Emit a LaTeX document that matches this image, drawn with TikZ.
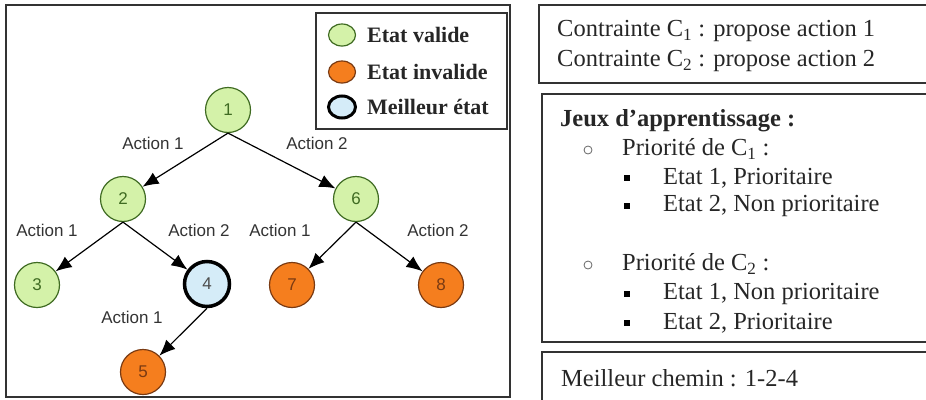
\documentclass[tikz,border=0pt]{standalone}
\usepackage{fontspec}
\setmainfont{Liberation Serif}
\newfontfamily\arialfont{Liberation Sans}
\usetikzlibrary{arrows.meta,shapes.geometric}

\definecolor{vertfond}{HTML}{D4F2A9}
\definecolor{vertbord}{HTML}{3F6B22}
\definecolor{orangefond}{HTML}{F57E1E}
\definecolor{orangebord}{HTML}{7A3A12}
\definecolor{bleufond}{HTML}{D5ECF8}
\definecolor{cadre}{HTML}{333333}

\tikzset{
	etat/.style={circle, minimum size=45pt, inner sep=0pt, line width=1.2pt,
		font=\arialfont\fontsize{17}{17}\selectfont},
	valide/.style={etat, draw=vertbord, fill=vertfond, text=vertbord},
	invalide/.style={etat, draw=orangebord, fill=orangefond, text=orangebord},
	meilleur/.style={etat, draw=black, line width=3.5pt, fill=bleufond,
		text=black!70},
	fleche/.style={-{Latex[length=16pt,width=13pt]}, line width=1.2pt},
	action/.style={font=\arialfont\fontsize{17}{17}\selectfont, text=black!80},
	legende/.style={ellipse, minimum width=27pt, minimum height=22pt,
		inner sep=0pt},
	texte/.style={anchor=west, inner sep=0pt, text=black!85,
		font=\fontsize{24.5}{24.5}\selectfont},
	rond/.style={circle, draw=black!60, line width=0.8pt, minimum size=8pt,
		inner sep=0pt},
	carre/.style={rectangle, fill=black, minimum size=6pt, inner sep=0pt}
}

\begin{document}
\begin{tikzpicture}[x=1pt, y=-1pt]
	\useasboundingbox (0, 0) rectangle (926, 399);
	\clip (0, 0) rectangle (926, 399);

	% Cadres
	\draw[line width=1.5pt, draw=cadre] (6, 5) rectangle (510, 397);
	\draw[line width=1.5pt, draw=cadre] (539, 5) rectangle (940, 83);
	\draw[line width=1.5pt, draw=cadre] (542, 94) rectangle (940, 342);
	\draw[line width=1.5pt, draw=cadre] (542, 352) rectangle (940, 420);

	% Legende
	\draw[line width=1.5pt, draw=cadre] (316, 13) rectangle (507, 129);
	\node[legende, draw=vertbord, line width=1.2pt, fill=vertfond] (lv) at (342, 35) {};
	\node[legende, draw=orangebord, line width=1.2pt, fill=orangefond] (li) at (342, 72) {};
	\node[legende, draw=black, line width=3pt, fill=bleufond] (lm) at (342, 107) {};
	\node[texte, font=\bfseries\fontsize{22}{22}\selectfont] (tv) at (367, 35) {Etat valide};
	\node[texte, font=\bfseries\fontsize{22}{22}\selectfont] (ti) at (367, 72) {Etat invalide};
	\node[texte, font=\bfseries\fontsize{22}{22}\selectfont] (tm) at (367, 107) {Meilleur état};

	% Etats
	\node[valide] (n1) at (228, 110) {1};
	\node[valide] (n2) at (123, 199) {2};
	\node[valide] (n6) at (356, 199) {6};
	\node[valide] (n3) at (37, 285) {3};
	\node[meilleur] (n4) at (207, 284) {4};
	\node[invalide] (n7) at (292, 285) {7};
	\node[invalide] (n8) at (441, 285) {8};
	\node[invalide] (n5) at (143, 372) {5};

	% Actions
	\draw[fleche] (n1.south) -- (n2);
	\draw[fleche] (n1.south) -- (n6);
	\draw[fleche] (n2.south) -- (n3);
	\draw[fleche] (n2.south) -- (n4);
	\draw[fleche] (n6.south) -- (n7);
	\draw[fleche] (n6.south) -- (n8);
	\draw[fleche] (n4.south) -- (n5);
	\node[action] (a12) at (153, 143) {Action 1};
	\node[action] (a16) at (317, 143) {Action 2};
	\node[action] (a23) at (47, 230) {Action 1};
	\node[action] (a24) at (199, 230) {Action 2};
	\node[action] (a67) at (280, 230) {Action 1};
	\node[action] (a68) at (438, 230) {Action 2};
	\node[action] (a45) at (132, 317) {Action 1};

	% Contraintes
	\node[texte] (c1) at (557, 31) {Contrainte C\textsubscript{1} : propose action 1};
	\node[texte] (c2) at (557, 61) {Contrainte C\textsubscript{2} : propose action 2};

	% Jeux d'apprentissage
	\node[texte, font=\bfseries\fontsize{24.5}{24.5}\selectfont] (jeux) at (560, 121)
		{Jeux d’apprentissage :};
	\node[rond] (r1) at (588, 150) {};
	\node[texte] (p1) at (622, 149) {Priorité de C\textsubscript{1} :};
	\node[rond] (r2) at (588, 265) {};
	\node[texte] (p2) at (622, 264) {Priorité de C\textsubscript{2} :};
	\foreach \y/\nom in {178/b1, 206/b2, 294/b3, 323/b4}
		\node[carre] (\nom) at (627, \y) {};
	\node[texte] (e11) at (663, 178) {Etat 1, Prioritaire};
	\node[texte] (e12) at (663, 206) {Etat 2, Non prioritaire};
	\node[texte] (e21) at (663, 294) {Etat 1, Non prioritaire};
	\node[texte] (e22) at (663, 323) {Etat 2, Prioritaire};

	% Meilleur chemin
	\node[texte] (chemin) at (561, 378) {Meilleur chemin : 1-2-4};
\end{tikzpicture}
\end{document}
